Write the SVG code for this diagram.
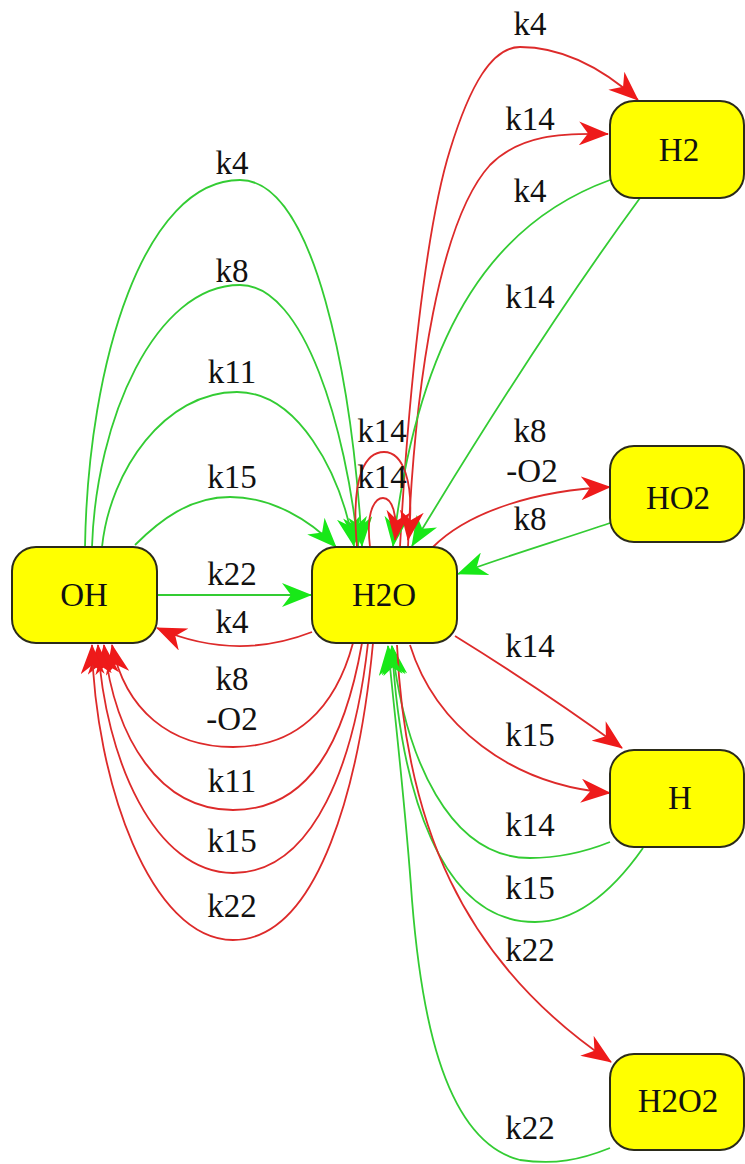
<svg xmlns="http://www.w3.org/2000/svg" width="745" height="1164" viewBox="0 0 745 1164">
<style>
.node rect{fill:#ffff00;stroke:#2b2b1a;stroke-width:2}
text{font-family:"Liberation Serif","Times New Roman",serif;font-size:33px;fill:#111;text-anchor:middle}
.r{fill:none;stroke:#dd2a2a;stroke-width:1.8;marker-end:url(#ar)}
.g{fill:none;stroke:#33cc33;stroke-width:1.8;marker-end:url(#ag)}
</style>
<defs>
<marker id="ar" viewBox="0 0 30 24" refX="29" refY="12" markerWidth="30" markerHeight="24" orient="auto" markerUnits="userSpaceOnUse"><path d="M0,0 L30,12 L0,24 L9,12 Z" fill="#ee1a1a"/></marker>
<marker id="ag" viewBox="0 0 30 24" refX="29" refY="12" markerWidth="30" markerHeight="24" orient="auto" markerUnits="userSpaceOnUse"><path d="M0,0 L30,12 L0,24 L9,12 Z" fill="#18e818"/></marker>
</defs>
<rect width="745" height="1164" fill="#ffffff"/>
<g id="connectors">
<!-- OH -> H2O green -->
<path class="g" d="M85,547 C88,360 145,180 240,180 C315,180 352,380 362,546"/>
<path class="g" d="M92,547 C96,420 155,285 240,285 C305,285 346,430 358,546"/>
<path class="g" d="M102,547 C110,470 165,392 237,392 C297,392 340,470 354,546"/>
<path class="g" d="M135,545 C160,520 190,497 230,497 C272,497 310,520 336,547"/>
<path class="g" d="M157,595 L311,595"/>
<!-- H2O -> OH red -->
<path class="r" d="M312,632 Q235,662 157,628"/>
<path class="r" d="M353,643 C335,710 295,747 233,747 C170,747 125,710 112,645"/>
<path class="r" d="M362,643 C345,740 310,810 233,810 C160,810 115,740 104,645"/>
<path class="r" d="M368,643 C355,760 315,873 233,873 C155,873 105,760 98,645"/>
<path class="r" d="M373,643 C360,780 320,940 233,940 C150,940 95,780 92,645"/>
<!-- H2O <-> H2 -->
<path class="r" d="M400,547 C408,400 425,230 450,150 C470,85 492,47 520,47 C570,47 610,75 638,100"/>
<path class="r" d="M408,547 C415,380 440,220 490,165 C520,135 560,133 608,134"/>
<path class="g" d="M610,180 C500,220 420,320 393,546"/>
<path class="g" d="M640,198 C580,280 500,400 412,546"/>
<!-- self loops -->
<path class="r" d="M357,547 C350,470 368,452 384,452 C402,452 416,480 408,540"/>
<path class="r" d="M370,547 C365,505 378,498 383,498 C392,498 398,515 395,540"/>
<!-- HO2 -->
<path class="r" d="M433,547 C470,510 540,490 610,487"/>
<path class="g" d="M610,523 C560,540 500,558 458,574"/>
<!-- H -->
<path class="r" d="M455,636 C510,670 570,710 622,748"/>
<path class="r" d="M410,645 C435,725 510,785 610,793"/>
<path class="g" d="M610,842 C585,852 560,858 530,858 C450,858 405,760 392,646"/>
<path class="g" d="M643,848 C610,895 575,922 535,922 C440,922 400,790 392,646"/>
<!-- H2O2 -->
<path class="r" d="M397,645 C405,820 460,960 611,1062"/>
<path class="g" d="M610,1148 C580,1160 555,1165 520,1160 C440,1140 420,1000 412,900 C405,800 395,720 388,646"/>
</g>
<g id="labels">
<text x="232" y="174">k4</text>
<text x="232" y="282">k8</text>
<text x="232" y="383">k11</text>
<text x="232" y="488">k15</text>
<text x="232" y="585">k22</text>
<text x="232" y="633">k4</text>
<text x="232" y="690">k8</text>
<text x="232" y="730">-O2</text>
<text x="232" y="792">k11</text>
<text x="232" y="852">k15</text>
<text x="232" y="917">k22</text>
<text x="530" y="35">k4</text>
<text x="530" y="130">k14</text>
<text x="530" y="202">k4</text>
<text x="530" y="308">k14</text>
<text x="382" y="442">k14</text>
<text x="382" y="488">k14</text>
<text x="530" y="442">k8</text>
<text x="532" y="482">-O2</text>
<text x="530" y="530">k8</text>
<text x="530" y="657">k14</text>
<text x="530" y="746">k15</text>
<text x="530" y="836">k14</text>
<text x="530" y="899">k15</text>
<text x="530" y="961">k22</text>
<text x="530" y="1139">k22</text>
</g>
<g id="OH" class="node"><rect x="12" y="547" width="145" height="96" rx="24"/><text x="84" y="606">OH</text></g>
<g id="H2O" class="node"><rect x="312" y="547" width="145" height="96" rx="24"/><text x="384" y="606">H2O</text></g>
<g id="H2" class="node"><rect x="610" y="101" width="134" height="97" rx="24"/><text x="679" y="161">H2</text></g>
<g id="HO2" class="node"><rect x="610" y="446" width="134" height="96" rx="24"/><text x="678" y="509">HO2</text></g>
<g id="H" class="node"><rect x="610" y="750" width="134" height="97" rx="24"/><text x="680" y="809">H</text></g>
<g id="H2O2" class="node"><rect x="610" y="1054" width="134" height="96" rx="24"/><text x="678" y="1112">H2O2</text></g>
</svg>
